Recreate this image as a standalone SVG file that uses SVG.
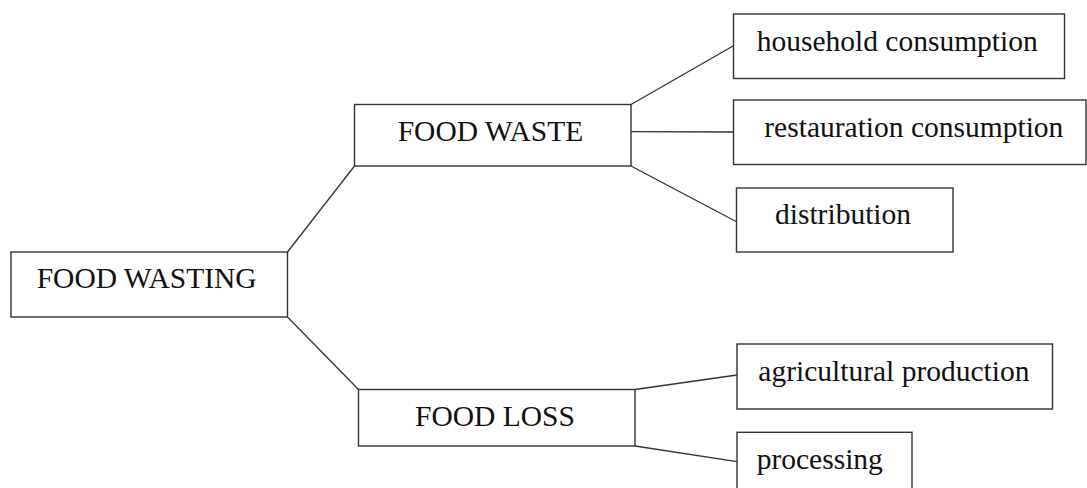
<svg xmlns="http://www.w3.org/2000/svg" width="1087" height="488" viewBox="0 0 1087 488">
<style>
.box{fill:#fff;stroke:#333;stroke-width:1.4}
.lbl{font-family:"Liberation Serif",serif;font-size:29.5px;fill:#111}
.conn{stroke:#333;stroke-width:1.3;fill:none}
</style>
<rect width="1087" height="488" fill="#fff"/>
<g id="connectors">
<line class="conn" x1="287.5" y1="252" x2="354.5" y2="166"/>
<line class="conn" x1="287.5" y1="317" x2="358.5" y2="389.5"/>
<line class="conn" x1="631" y1="104.5" x2="733.5" y2="45.7"/>
<line class="conn" x1="631" y1="131.7" x2="733.5" y2="132"/>
<line class="conn" x1="631" y1="166" x2="736.5" y2="221.7"/>
<line class="conn" x1="635" y1="389.5" x2="737" y2="375"/>
<line class="conn" x1="635" y1="446" x2="737" y2="461.7"/>
</g>
<g id="food-wasting">
<rect class="box" x="11" y="252" width="276.5" height="65"/>
<text class="lbl" x="36.7" y="287.7">FOOD WASTING</text>
</g>
<g id="food-waste">
<rect class="box" x="354.5" y="104.5" width="276.5" height="61.5"/>
<text class="lbl" x="397.7" y="141">FOOD WASTE</text>
</g>
<g id="food-loss">
<rect class="box" x="358.5" y="389.5" width="276.5" height="56.5"/>
<text class="lbl" x="415" y="426">FOOD LOSS</text>
</g>
<g id="household">
<rect class="box" x="733.5" y="14" width="331" height="64.5"/>
<text class="lbl" x="756.7" y="50.5">household consumption</text>
</g>
<g id="restauration">
<rect class="box" x="733.5" y="100" width="352.5" height="64.5"/>
<text class="lbl" x="764.3" y="136.7">restauration consumption</text>
</g>
<g id="distribution">
<rect class="box" x="736.5" y="188" width="216.5" height="64"/>
<text class="lbl" x="775" y="224">distribution</text>
</g>
<g id="agricultural">
<rect class="box" x="737" y="344" width="315.5" height="65"/>
<text class="lbl" x="758.3" y="380.7">agricultural production</text>
</g>
<g id="processing">
<rect class="box" x="737" y="432.3" width="175" height="70"/>
<text class="lbl" x="756.7" y="469.3">processing</text>
</g>
</svg>
